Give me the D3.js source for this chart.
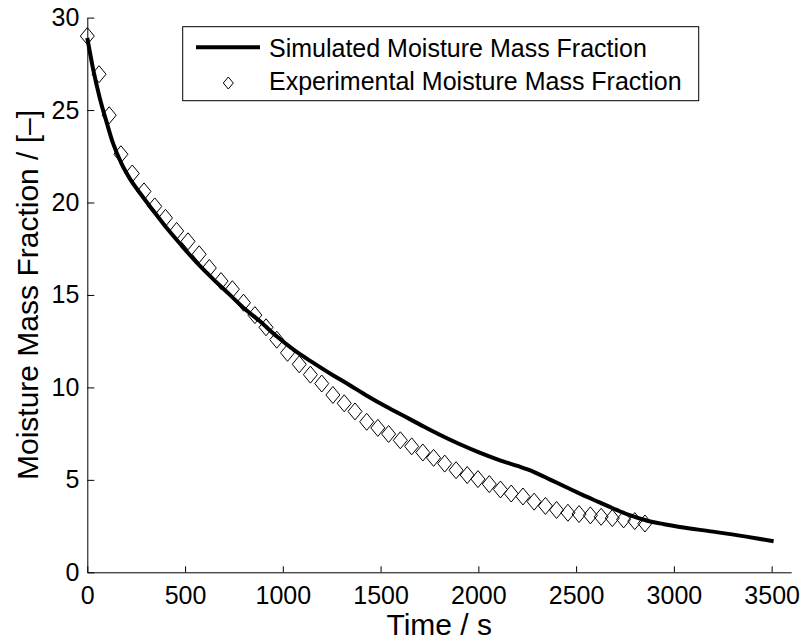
<!DOCTYPE html>
<html>
<head>
<meta charset="utf-8">
<script src="https://cdnjs.cloudflare.com/ajax/libs/d3/7.8.5/d3.min.js"></script>
<style>
    body { margin: 0; background: #fff; }
    svg text { font-family: "Liberation Sans", Arial, Helvetica, sans-serif; fill: #000; }
</style>
</head>
<body>
<div id="chart"></div>
<script>
// Datos simulados (tiempo en s, fraccion de humedad)
const simTime = [0, 30, 65, 100, 130, 175, 220, 270, 320, 400, 480, 560, 640, 720, 800, 880, 970, 1060, 1160, 1250, 1330, 1430, 1530, 1620, 1700, 1800, 1900, 2000, 2100, 2200, 2280, 2370, 2450, 2530, 2620, 2690, 2770, 2860, 2950, 3030, 3200, 3370, 3510];
const simValue = [28.9, 27.2, 25.6, 24.3, 23.25, 22.1, 21.25, 20.5, 19.8, 18.7, 17.7, 16.75, 15.9, 15.1, 14.3, 13.6, 12.75, 12.0, 11.3, 10.7, 10.2, 9.55, 8.95, 8.45, 8.0, 7.45, 6.95, 6.5, 6.1, 5.75, 5.45, 5.0, 4.6, 4.2, 3.78, 3.45, 3.1, 2.8, 2.6, 2.45, 2.2, 1.93, 1.68];

// Datos experimentales
const expTime = [0, 60, 112, 172, 230, 290, 345, 400, 457, 515, 572, 624, 684, 742, 799, 857, 914, 969, 1024, 1084, 1141, 1199, 1256, 1314, 1369, 1429, 1486, 1541, 1601, 1659, 1716, 1771, 1828, 1886, 1943, 1998, 2056, 2113, 2168, 2228, 2285, 2343, 2400, 2458, 2515, 2573, 2628, 2685, 2743, 2800, 2852];
const expValue = [29.0, 26.94, 24.72, 22.61, 21.57, 20.6, 19.79, 19.17, 18.46, 17.9, 17.2, 16.46, 15.75, 15.31, 14.58, 13.91, 13.25, 12.58, 11.87, 11.25, 10.69, 10.21, 9.59, 9.14, 8.70, 8.14, 7.81, 7.48, 7.14, 6.81, 6.48, 6.19, 5.88, 5.52, 5.26, 5.04, 4.77, 4.48, 4.26, 4.10, 3.82, 3.59, 3.37, 3.22, 3.15, 3.08, 3.0, 2.93, 2.86, 2.77, 2.64];

const xTicks = [0, 500, 1000, 1500, 2000, 2500, 3000, 3500];
const yTicks = [0, 5, 10, 15, 20, 25, 30];
const legendLabels = ['Simulated Moisture Mass Fraction', 'Experimental Moisture Mass Fraction'];

let width = 803, height = 642;
let margin = {top: 17.6, right: 11.8, bottom: 69.7, left: 87.3};

const svg = d3.select('#chart')
    .append('svg')
    .attr('width', width)
    .attr('height', height);

let x = d3.scaleLinear().domain([0, 3600]).range([margin.left, width - margin.right]);
let y = d3.scaleLinear().domain([0, 30]).range([height - margin.bottom, margin.top]);

//Ejes (ticks hacia dentro, estilo MATLAB)
let xAxis = svg.append('g')
    .attr('transform', 'translate(0,' + y(0) + ')')
    .call(d3.axisBottom(x).tickValues(xTicks).tickFormat(d3.format('d')).tickSize(-6).tickSizeOuter(0));

let yAxis = svg.append('g')
    .attr('transform', 'translate(' + x(0) + ',0)')
    .call(d3.axisLeft(y).tickValues(yTicks).tickSize(-7).tickPadding(8).tickSizeOuter(0));

[xAxis, yAxis].forEach(function(ax) {
    ax.select('.domain').attr('stroke', '#000').attr('stroke-width', 1);
    ax.selectAll('.tick line').attr('stroke', '#000');
    ax.selectAll('.tick text').style('font-size', '25px');
});
xAxis.selectAll('.tick text').attr('dy', '0.71em').attr('y', 14);

//Etiquetas
svg.append('text')
    .attr('x', (x(0) + x(3600)) / 2)
    .attr('y', 635)
    .attr('text-anchor', 'middle')
    .style('font-size', '30px')
    .text('Time / s');

svg.append('text')
    .attr('transform', 'translate(38,' + (y(0) + y(30)) / 2 + ') rotate(-90)')
    .attr('text-anchor', 'middle')
    .style('font-size', '30px')
    .text('Moisture Mass Fraction / [\u2013]');

//Linea simulada
let simData = simTime.map((t, i) => ({t: t, v: simValue[i]}));
let line = d3.line().x(d => x(d.t)).y(d => y(d.v)).curve(d3.curveMonotoneX);

svg.append('path')
    .datum(simData)
    .attr('d', line)
    .attr('fill', 'none')
    .attr('stroke', '#000')
    .attr('stroke-width', 4)
    .attr('stroke-linejoin', 'round');

//Puntos experimentales (rombos)
let expData = expTime.map((t, i) => ({t: t, v: expValue[i]}));
let diamond = function(cx, cy, w, h) {
    return 'M' + cx + ',' + (cy - h / 2) + 'L' + (cx + w / 2) + ',' + cy + 'L' + cx + ',' + (cy + h / 2) + 'L' + (cx - w / 2) + ',' + cy + 'Z';
};

svg.selectAll('.exp')
    .data(expData)
    .enter()
    .append('path')
    .attr('class', 'exp')
    .attr('d', d => diamond(x(d.t), y(d.v), 14, 17))
    .attr('fill', 'none')
    .attr('stroke', '#000')
    .attr('stroke-width', 1);

//Leyenda
let legend = svg.append('g');
legend.append('rect')
    .attr('x', 182.7).attr('y', 26.7)
    .attr('width', 516).attr('height', 74)
    .attr('fill', '#fff')
    .attr('stroke', '#000')
    .attr('stroke-width', 1);

legend.append('line')
    .attr('x1', 196).attr('x2', 260)
    .attr('y1', 47.3).attr('y2', 47.3)
    .attr('stroke', '#000')
    .attr('stroke-width', 4);

legend.append('path')
    .attr('d', diamond(228.3, 83, 10, 12))
    .attr('fill', 'none')
    .attr('stroke', '#000')
    .attr('stroke-width', 1);

legend.selectAll('.leg-text')
    .data(legendLabels)
    .enter()
    .append('text')
    .attr('class', 'leg-text')
    .attr('x', 269)
    .attr('y', (d, i) => i === 0 ? 56.7 : 90)
    .style('font-size', '25px')
    .text(d => d);
</script>
</body>
</html>
